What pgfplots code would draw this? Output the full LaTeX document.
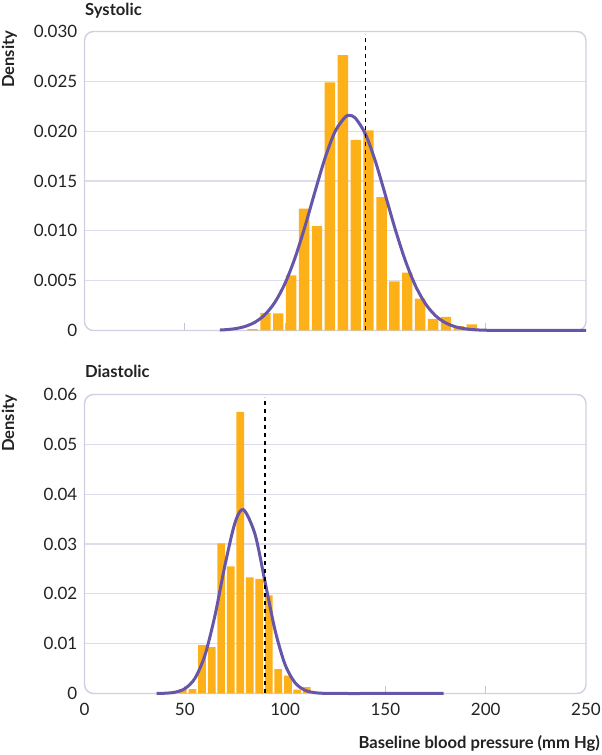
\documentclass[border=0pt]{standalone}
\usepackage{fontspec}
\setmainfont{Lato}
\usepackage{pgfplots}
\pgfplotsset{compat=1.18}
\definecolor{barorange}{HTML}{FDB017}
\definecolor{curvepurple}{HTML}{6655A8}
\definecolor{gridc}{HTML}{DCDCEA}
\definecolor{boxc}{HTML}{D0D0E0}
\definecolor{tickc}{HTML}{C4C4D4}
\definecolor{textc}{HTML}{222222}
\pgfplotsset{
  panel/.style={
    scale only axis, width=501.5bp, height=299bp,
    anchor=south west,
    xmin=0, xmax=250,
    axis line style={draw=none},
    ymajorgrids, grid style={gridc, line width=1.2bp},
    xtick={50,100,150,200},
    xtick pos=left,
    tick align=inside,
    major tick length=7bp,
    x tick style={tickc, line width=1.2bp},
    y tick style={draw=none},
    extra y tick style={grid=none},
    scaled y ticks=false,
    scaled x ticks=false,
    /pgf/number format/assume math mode=true,
    tick label style={font=\fontsize{17bp}{20bp}\selectfont, text=textc},
    yticklabel style={anchor=east, inner sep=0pt, xshift=-7bp},
    xticklabel style={anchor=north, inner sep=0pt, yshift=-9.5bp},
    clip=false,
  }
}
\begin{document}
\begin{tikzpicture}
\useasboundingbox (0,0) rectangle (602bp,755bp);
% ---------------- Systolic ----------------
\begin{axis}[panel, at={(84.5bp,424.5bp)},
  ymin=0, ymax=0.030,
  ytick={0.005,0.010,0.015,0.020,0.025},
  yticklabels={0.005,0.010,0.015,0.020,0.025},
  extra y ticks={0,0.030},
  extra y tick labels={0,0.030},
  xticklabels={},
]
\draw[boxc, line width=1.4bp, rounded corners=9bp] (rel axis cs:0,0) rectangle (rel axis cs:1,1);
\addplot[ybar, bar width=5.17, bar shift=0pt, fill=barorange, draw=none] coordinates {
(83.75,0.00014) (90.2,0.00174) (96.6,0.00173) (103.0,0.00553) (109.5,0.01223)
(115.9,0.01047) (122.3,0.0249) (128.8,0.02763) (135.2,0.01913) (141.6,0.02007)
(148.1,0.01337) (154.5,0.00493) (160.9,0.0058) (167.3,0.0032) (173.8,0.00117)
(180.2,0.00137) (186.6,0.00045) (193.1,0.00062)
};
\addplot[curvepurple, line width=3bp, smooth] coordinates {
(67.5,0.0000477) (70,0.0000757) (75,0.000181) (80,0.000403) (85,0.000832)
(90,0.001599) (95,0.002856) (100,0.004743) (105,0.007319) (110,0.01050)
(115,0.01400) (120,0.01736) (125,0.02000) (130,0.02142) (132.2,0.02157)
(135,0.02132) (140,0.01973) (145,0.01698) (150,0.01358) (155,0.01009)
(160,0.006976) (165,0.004480) (170,0.002675) (175,0.001484) (180,0.000766)
(185,0.000367) (190,0.000164) (195,0.0000678) (200,0.000026) (210,0.000003)
(220,0) (250,0)
};
\addplot[black, line width=1.3bp, dash pattern=on 4.3bp off 3.7bp] coordinates {(140,0) (140,0.0297)};
\end{axis}
% ---------------- Diastolic ----------------
\begin{axis}[panel, at={(84.5bp,61.5bp)},
  ymin=0, ymax=0.06,
  ytick={0.01,0.02,0.03,0.04,0.05},
  yticklabels={0.01,0.02,0.03,0.04,0.05},
  extra y ticks={0,0.06},
  extra y tick labels={0,0.06},
  xticklabels={50,100,150,200},
  extra x ticks={0,250},
  extra x tick labels={0,250},
  extra x tick style={major tick length=0pt, grid=none},
]
\draw[boxc, line width=1.4bp, rounded corners=9bp] (rel axis cs:0,0) rectangle (rel axis cs:1,1);
\addplot[ybar, bar width=3.83, bar shift=0pt, fill=barorange, draw=none] coordinates {
(49.0,0.0009) (53.8,0.0009) (58.6,0.0097) (63.4,0.0093) (68.1,0.0301)
(72.9,0.0255) (77.6,0.0565) (82.4,0.0233) (87.1,0.0230) (91.9,0.0197)
(96.6,0.0049) (101.4,0.0036) (106.1,0.0008) (110.8,0.0013)
};
\addplot[curvepurple, line width=3bp, smooth] coordinates {
(36,0.0000126) (40,0.0000517) (45,0.000248) (50,0.000962) (55,0.003014)
(60,0.007625) (65,0.01558) (70,0.02569) (75,0.03422) (79.2,0.0369)
(85,0.03196) (90,0.02241) (95,0.01269) (100,0.005801) (105,0.002141)
(110,0.000638) (115,0.000154) (120,0.0000299) (130,0.0000006) (140,0) (179,0)
};
\addplot[black, line width=1.3bp, dash pattern=on 4.3bp off 3.7bp] coordinates {(90,0) (90,0.0594)};
\end{axis}
% ---------------- Texts ----------------
\begin{scope}[every node/.style={text=textc, font=\fontsize{16.6bp}{19bp}\selectfont\bfseries, inner sep=0pt}]
\node[anchor=base west] at (85bp,739bp) {Systolic};
\node[anchor=base west, rotate=90] at (14bp,667bp) {Density};
\node[anchor=base west] at (85bp,377bp) {Diastolic};
\node[anchor=base west, rotate=90] at (14bp,303bp) {Density};
\node[anchor=base east] at (600bp,7bp) {Baseline blood pressure (mm Hg)};
\end{scope}
\end{tikzpicture}
\end{document}
